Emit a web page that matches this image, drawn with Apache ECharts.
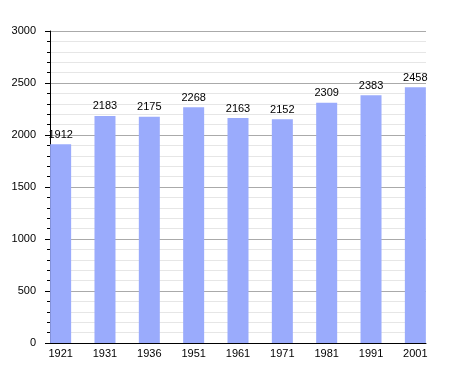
<!DOCTYPE html>
<html><head><meta charset="utf-8">
<script src="https://cdn.jsdelivr.net/npm/echarts@6/dist/echarts.min.js"></script>
<style>html,body{margin:0;padding:0;background:#fff}#c{width:455px;height:373px}</style>
</head><body><div id="c"></div>
<script>
var categories = ['1921','1931','1936','1951','1961','1971','1981','1991','2001'];
var population = [1912, 2183, 2175, 2268, 2163, 2152, 2309, 2383, 2458];
var yTicks = [0, 500, 1000, 1500, 2000, 2500, 3000];

var FONT = '"Liberation Sans", Arial, sans-serif';
var FS = 11;
var chart = echarts.init(document.getElementById('c'), null, {renderer: 'canvas'});
var idx = categories.map(function (c, i) { return i; });
chart.setOption({
  animation: false,
  backgroundColor: '#fff',
  grid: {left: 50, right: 29, top: 31, bottom: 30, containLabel: false},
  xAxis: {
    type: 'value', min: -0.24, max: 8.24,
    splitLine: {show: false},
    axisLine: {show: true, onZero: false, lineStyle: {color: '#000', width: 1}},
    axisTick: {show: false},
    axisLabel: {
      customValues: idx, margin: 5, color: '#000', fontSize: FS, fontFamily: FONT,
      formatter: function (v) { return categories[Math.round(v)]; }
    }
  },
  yAxis: {
    type: 'value', min: yTicks[0], max: yTicks[yTicks.length - 1], interval: 500,
    axisLine: {show: true, onZero: false, lineStyle: {color: '#000', width: 1}},
    axisTick: {show: true, length: 5, lineStyle: {color: '#000'}},
    minorTick: {show: true, splitNumber: 5, length: 3, lineStyle: {color: '#000'}},
    splitLine: {show: true, lineStyle: {color: '#aaaaaa', width: 1}},
    minorSplitLine: {show: true, lineStyle: {color: '#e6e6e6', width: 1}},
    axisLabel: {margin: 14, color: '#000', fontSize: FS, fontFamily: FONT,
      formatter: function (v) { return String(v); }}
  },
  series: [{
    type: 'bar', barWidth: 21,
    data: population.map(function (v, i) { return [i, v]; }),
    itemStyle: {color: '#9aabfc'},
    label: {show: true, position: 'top', distance: 4, color: '#000', fontSize: FS, fontFamily: FONT,
      formatter: function (p) { return p.value[1]; }}
  }]
});
</script></body></html>
